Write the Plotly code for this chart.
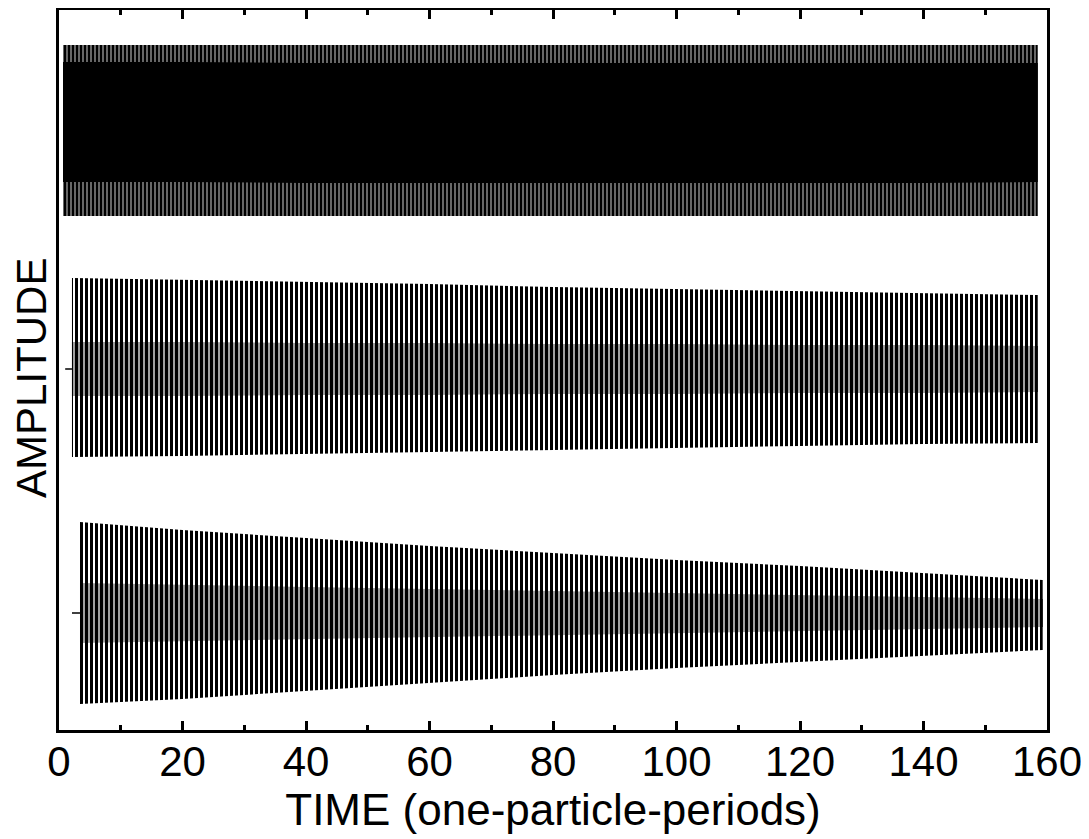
import plotly.graph_objects as go

# ---- data (amplitude envelopes, arbitrary units) ----
# Trace 1 (top): constant-amplitude, dense oscillation
t_top = [0.65, 20, 40, 60, 80, 100, 120, 140, 158.5]
top_upper = [8.5, 8.5, 8.5, 8.5, 8.5, 8.5, 8.5, 8.5, 8.5]
top_lower = [-8.6, -8.6, -8.6, -8.6, -8.6, -8.6, -8.6, -8.6, -8.6]
top_core_upper = [6.8, 6.8, 6.7, 6.7, 6.7, 6.7, 6.7, 6.7, 6.7]
top_core_lower = [-5.2, -5.2, -5.3, -5.3, -5.3, -5.3, -5.3, -5.3, -5.2]

# Trace 2 (middle): slow decay
t_mid = [2.1, 20, 40, 60, 80, 100, 120, 140, 158.5]
mid_upper = [9.1, 8.9, 8.7, 8.5, 8.2, 8.0, 7.8, 7.6, 7.4]
mid_lower = [-8.8, -8.7, -8.5, -8.3, -8.1, -7.9, -7.7, -7.5, -7.4]
mid_core_upper = [2.7, 2.7, 2.6, 2.6, 2.5, 2.5, 2.4, 2.4, 2.3]
mid_core_lower = [-2.7, -2.7, -2.6, -2.6, -2.5, -2.5, -2.4, -2.4, -2.3]
mid_stub_t = [1.0, 2.1]

# Trace 3 (bottom): stronger decay
t_bot = [3.4, 20, 40, 60, 80, 100, 120, 140, 159.3]
bot_upper = [9.1, 8.3, 7.5, 6.7, 6.0, 5.3, 4.7, 4.0, 3.3]
bot_lower = [-9.1, -8.6, -7.8, -7.0, -6.2, -5.5, -4.9, -4.3, -3.7]
bot_core_upper = [3.0, 2.8, 2.6, 2.4, 2.2, 2.0, 1.8, 1.6, 1.4]
bot_core_lower = [-3.0, -2.8, -2.6, -2.4, -2.2, -2.0, -1.8, -1.6, -1.4]
bot_stub_t = [2.1, 3.4]

# vertical offsets of the three stacked traces
offsets = {"top": 60.0, "mid": 36.1, "bot": 11.7}

x_ticks = [0, 20, 40, 60, 80, 100, 120, 140, 160]
x_tick_labels = ["0", "20", "40", "60", "80", "100", "120", "140", "160"]

fig = go.Figure()


def band(t, up, lo, off, pattern=None, color="black"):
    xs = list(t) + list(t)[::-1]
    ys = [off + v for v in up] + [off + v for v in lo][::-1]
    kw = dict(x=xs, y=ys, mode="lines", fill="toself", line=dict(width=0),
              hoverinfo="skip", showlegend=False)
    if pattern is not None:
        kw["fillcolor"] = "rgba(255,255,255,0)"
        kw["fillpattern"] = dict(shape="|", size=pattern[0], solidity=pattern[1],
                                 fgcolor=color, bgcolor="rgba(255,255,255,0)",
                                 fillmode="replace")
    else:
        kw["fillcolor"] = color
    fig.add_trace(go.Scatter(**kw))


# top trace
band(t_top, top_upper, top_lower, offsets["top"], pattern=(4, 0.8))
band(t_top, top_core_upper, top_core_lower, offsets["top"])
# middle trace
band(t_mid, mid_upper, mid_lower, offsets["mid"], pattern=(5, 0.6))
band(t_mid, mid_core_upper, mid_core_lower, offsets["mid"], pattern=(5, 0.75))
fig.add_trace(go.Scatter(x=mid_stub_t, y=[offsets["mid"]] * 2, mode="lines",
                         line=dict(color="black", width=1.5), showlegend=False,
                         hoverinfo="skip"))
# bottom trace
band(t_bot, bot_upper, bot_lower, offsets["bot"], pattern=(5, 0.6))
band(t_bot, bot_core_upper, bot_core_lower, offsets["bot"], pattern=(5, 0.75))
fig.add_trace(go.Scatter(x=bot_stub_t, y=[offsets["bot"]] * 2, mode="lines",
                         line=dict(color="black", width=1.5), showlegend=False,
                         hoverinfo="skip"))

font = dict(family="Liberation Sans, Arial, sans-serif", color="black")

fig.update_layout(
    width=1081, height=831,
    margin=dict(l=51, r=42, t=2, b=109, autoexpand=False),
    paper_bgcolor="white", plot_bgcolor="white",
    showlegend=False,
    font=font,
    xaxis=dict(
        range=[0, 160], tickvals=x_ticks, ticktext=x_tick_labels,
        ticks="inside", ticklen=9, tickwidth=2.5, tickcolor="black",
        minor=dict(ticks="inside", dtick=10, tick0=0, ticklen=5, tickwidth=2.5,
                   tickcolor="black", showgrid=False),
        showline=True, linecolor="black", linewidth=2.5, mirror="ticks",
        showgrid=False, zeroline=False,
        ticklabelstandoff=-7,
        tickfont=dict(size=42, **font),
        title=dict(text="TIME (one-particle-periods)", font=dict(size=44, **font),
                   standoff=0),
    ),
    yaxis=dict(
        range=[0, 72], showticklabels=False, ticks="",
        showline=True, linecolor="black", linewidth=2.5, mirror=True,
        showgrid=False, zeroline=False,
    ),
    annotations=[dict(
        text="AMPLITUDE", textangle=-90, showarrow=False,
        xref="paper", yref="paper", x=0, y=0.489, xshift=-27,
        xanchor="center", yanchor="middle", borderpad=0,
        font=dict(size=42, **font),
    )],
)

fig.write_html("out.html")
